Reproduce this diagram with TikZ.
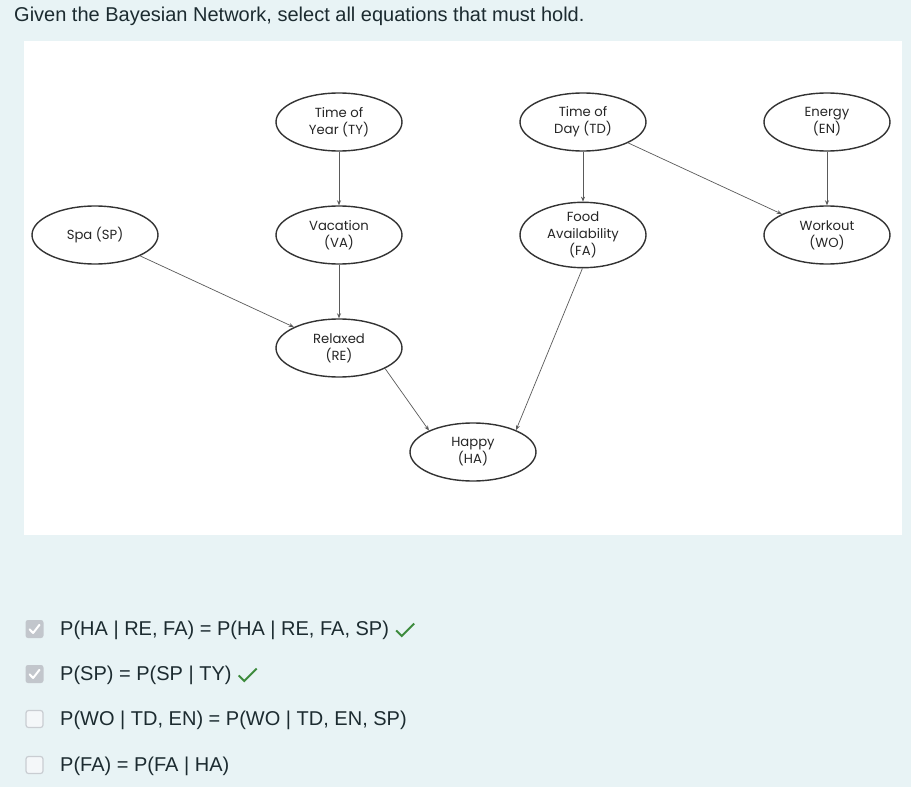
\documentclass[tikz,border=0pt]{standalone}
\usepackage{fontspec}
\setmainfont{Liberation Sans}
\newfontfamily\diagfont{Poppins}
\usetikzlibrary{shapes.geometric,arrows.meta}
\definecolor{bgblue}{HTML}{E8F3F5}
\definecolor{txtdark}{HTML}{1C2B30}
\definecolor{edgegray}{HTML}{5A5A5A}
\definecolor{nodegray}{HTML}{333333}
\definecolor{boxchk}{HTML}{C2C6CC}
\definecolor{boxun}{HTML}{F4F7F9}
\definecolor{boxunline}{HTML}{C9CDD2}
\definecolor{okgreen}{HTML}{3D8B3D}
\tikzset{
  bn/.style={ellipse, draw=nodegray, line width=1.4pt, fill=white, minimum width=126pt, minimum height=58pt, inner sep=0pt, align=center, font=\diagfont\fontsize{13.2}{17}\selectfont, text=black!85},
  edge/.style={draw=edgegray, line width=0.7pt, -{Stealth[length=5pt,width=4pt]}},
  chk/.style={rounded corners=2.5pt, fill=boxchk, draw=none, minimum size=18pt, inner sep=0pt},
  unchk/.style={rounded corners=2.5pt, fill=boxun, draw=boxunline, line width=1.2pt, minimum size=17pt, inner sep=0pt},
  opt/.style={anchor=west, inner sep=0pt, font=\fontsize{20}{24}\selectfont, text=txtdark},
}
\begin{document}
\begin{tikzpicture}[x=1pt,y=-1pt]
\fill[bgblue] (0,0) rectangle (911,787);
\useasboundingbox (0,0) rectangle (911,787);
\fill[white] (24,41) rectangle (902,535);
\node[anchor=west, inner sep=0pt, font=\fontsize{20}{24}\selectfont, text=txtdark] (q) at (14,16.5) {Given the Bayesian Network, select all equations that must hold.};
% nodes
\node[bn] (TY) at (339,122) {Time of\\Year (TY)};
\node[bn] (TD) at (583,122) {Time of\\Day (TD)};
\node[bn] (EN) at (827,122) {Energy\\(EN)};
\node[bn] (SP) at (95,235) {Spa (SP)};
\node[bn] (VA) at (339,235) {Vacation\\(VA)};
\node[bn] (FA) at (583,235) {Food\\Availability\\(FA)};
\node[bn] (WO) at (827,235) {Workout\\(WO)};
\node[bn] (RE) at (339,348) {Relaxed\\(RE)};
\node[bn] (HA) at (473,452) {Happy\\(HA)};
% edges
\draw[edge] (TY) -- (VA);
\draw[edge] (TD) -- (FA);
\draw[edge] (EN) -- (WO);
\draw[edge] (TD) -- (WO);
\draw[edge] (SP) -- (RE);
\draw[edge] (VA) -- (RE);
\draw[edge] (RE.-24) -- (HA.154);
\draw[edge] (FA.-91) -- (HA.27);
% options
\node[chk] (c1) at (34.5,629) {};
\node[chk] (c2) at (34.5,674) {};
\node[unchk] (c3) at (34.5,719) {};
\node[unchk] (c4) at (34.5,765) {};
\foreach \c in {c1,c2}{
  \draw[white, line width=2pt, line cap=round, line join=round] ([shift={(-5pt,-0.3pt)}]\c.center) -- ([shift={(-1.4pt,-4pt)}]\c.center) -- ([shift={(5pt,4.2pt)}]\c.center);
}
\node[opt] (o1) at (60,630.5) {P(HA | RE, FA) = P(HA | RE, FA, SP)};
\node[opt] (o2) at (60,675.5) {P(SP) = P(SP | TY)};
\node[opt] (o3) at (60,720.5) {P(WO | TD, EN) = P(WO | TD, EN, SP)};
\node[opt] (o4) at (60,766.5) {P(FA) = P(FA | HA)};
\foreach \o in {o1,o2}{
  \draw[okgreen, line width=2pt] ([shift={(7pt,0pt)}]\o.east) -- ([shift={(12.5pt,-5.5pt)}]\o.east) -- ([shift={(25pt,7pt)}]\o.east);
}
\end{tikzpicture}
\end{document}
